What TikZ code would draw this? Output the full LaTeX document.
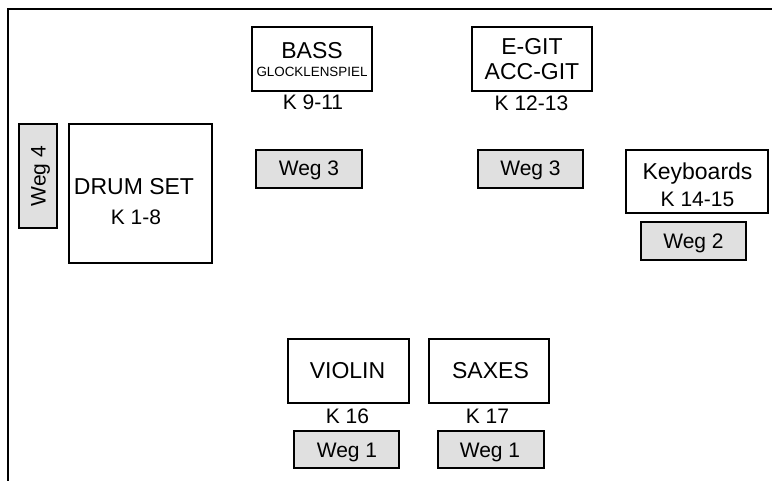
\documentclass[tikz,border=0pt]{standalone}
\usepackage{fontspec}
\setmainfont{Liberation Sans}
\definecolor{wegfill}{HTML}{E0E0E0}
\begin{document}
\begin{tikzpicture}[x=1pt,y=-1pt,
  box/.style={draw=black,line width=1.3pt,fill=white,inner sep=0pt,outer sep=0pt},
  wegbox/.style={box,fill=wegfill},
  instname/.style={anchor=base,inner sep=0pt,font=\fontsize{23}{27}\selectfont},
  lbl/.style={anchor=base,inner sep=0pt,font=\fontsize{21}{25}\selectfont},
  small/.style={anchor=base,inner sep=0pt,font=\fontsize{13.4}{15}\selectfont}]
\useasboundingbox (0,0) rectangle (772,481);
% frame
\coordinate (fr) at (772,9);
\coordinate (fc) at (8,9);
\coordinate (fb) at (8,481);
\draw[line width=2pt] (fr) -- (fc) -- (fb);
% boxes
\node[box,minimum width=120pt,minimum height=64pt] (bass) at (312,59) {};
\node[box,minimum width=120pt,minimum height=64pt] (egit) at (532,59) {};
\node[wegbox,minimum width=106pt,minimum height=38pt] (wegthreea) at (309,169) {};
\node[wegbox,minimum width=105pt,minimum height=38pt] (wegthreeb) at (530.5,169) {};
\node[box,minimum width=143pt,minimum height=139pt] (drum) at (140.5,193.5) {};
\node[wegbox,minimum width=38pt,minimum height=104pt] (wegfour) at (38,176) {};
\node[box,minimum width=142pt,minimum height=63pt] (keys) at (697,181.5) {};
\node[wegbox,minimum width=105pt,minimum height=38pt] (wegtwo) at (693.5,241) {};
\node[box,minimum width=121pt,minimum height=64pt] (violin) at (348.5,371) {};
\node[box,minimum width=120pt,minimum height=64pt] (saxes) at (489,371) {};
\node[wegbox,minimum width=105pt,minimum height=37pt] (wegonea) at (346.5,449.5) {};
\node[wegbox,minimum width=106pt,minimum height=37pt] (wegoneb) at (491,449.5) {};
% texts
\node[instname] (tbass) at (312,59) {BASS};
\node[small] (tglock) at (312,77) {GLOCKLENSPIEL};
\node[lbl] (tk911) at (313,110) {K 9-11};
\node[instname] (tegit) at (532,55) {E-GIT};
\node[instname] (tacc) at (532,80) {ACC-GIT};
\node[lbl] (tk1213) at (531.5,111) {K 12-13};
\node[lbl] (tw3a) at (309,176) {Weg 3};
\node[lbl] (tw3b) at (530.5,176) {Weg 3};
\node[instname] (tdrum) at (134,195) {DRUM SET};
\node[lbl] (tk18) at (136,225) {K 1-8};
\node[lbl,rotate=90] (tw4) at (45.5,176) {Weg 4};
\node[instname] (tkeys) at (697.5,180) {Keyboards};
\node[lbl] (tk1415) at (697.5,207) {K 14-15};
\node[lbl] (tw2) at (693.5,249) {Weg 2};
\node[instname] (tviolin) at (347.5,379) {VIOLIN};
\node[instname] (tsaxes) at (490.5,379) {SAXES};
\node[lbl] (tk16) at (347.5,423) {K 16};
\node[lbl] (tk17) at (487.5,423) {K 17};
\node[lbl] (tw1a) at (347,457) {Weg 1};
\node[lbl] (tw1b) at (490,457) {Weg 1};
\end{tikzpicture}
\end{document}
